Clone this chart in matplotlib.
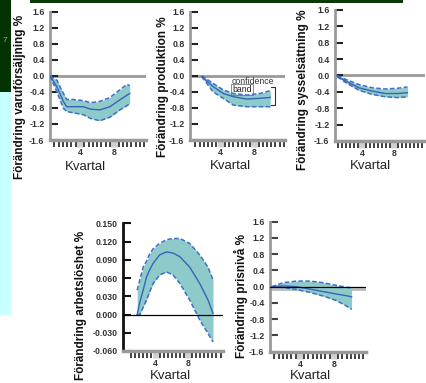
import numpy as np
import matplotlib.pyplot as plt
from matplotlib.patches import Rectangle

plt.rcParams['font.family'] = ['Liberation Sans', 'DejaVu Sans']

# Panel 1: varuförsäljning
q_varu = [0.5, 1.3, 2.06, 2.45, 3.2, 4.4, 5.2, 6.3, 7.5, 8.65, 9.5, 9.8]
varu_mid = [0, -0.27, -0.64, -0.77, -0.77, -0.77, -0.83, -0.85, -0.77, -0.60, -0.48, -0.44]
varu_hi = [0, -0.11, -0.44, -0.59, -0.59, -0.62, -0.67, -0.64, -0.54, -0.35, -0.21, -0.25]
varu_lo = [0, -0.40, -0.81, -0.89, -0.92, -0.97, -1.06, -1.12, -1.03, -0.85, -0.74, -0.69]

# Panel 2: produktion
q_prod = [1.74, 3.1, 4.3, 5.5, 7.1, 8.7, 9.9]
prod_mid = [-0.02, -0.27, -0.44, -0.52, -0.58, -0.56, -0.54]
prod_hi = [0, -0.19, -0.35, -0.44, -0.48, -0.44, -0.37]
prod_lo = [-0.02, -0.40, -0.56, -0.73, -0.77, -0.77, -0.77]

# Panel 3: sysselsättning
q_syss = [0.88, 2.0, 3.6, 5.25, 6.9, 8.5, 9.7]
syss_mid = [-0.016, -0.14, -0.30, -0.38, -0.44, -0.44, -0.42]
syss_hi = [0, -0.10, -0.22, -0.30, -0.33, -0.31, -0.28]
syss_lo = [-0.03, -0.18, -0.36, -0.46, -0.52, -0.54, -0.52]

# Panel 4: arbetslöshet
q_arb = [1.74, 2.07, 2.48, 2.9, 3.3, 3.7, 4.5, 5.35, 6.16, 7.0, 8.2, 9.44, 10.45, 11.07]
arb_mid = [0.0, 0.02, 0.040, 0.062, 0.074, 0.084, 0.098, 0.103, 0.101, 0.095, 0.078, 0.051, 0.024, 0.002]
arb_hi = [0.040, 0.057, 0.078, 0.088, 0.100, 0.108, 0.117, 0.123, 0.125, 0.125, 0.117, 0.098, 0.078, 0.057]
arb_lo = [0.0, 0.0, 0.012, 0.024, 0.038, 0.051, 0.065, 0.070, 0.065, 0.051, 0.024, -0.009, -0.031, -0.045]

# Panel 5: prisnivå
q_pris = [0.67, 2.04, 3.6, 5.18, 6.75, 8.3, 9.7, 10.1]
pris_mid = [0, 0.02, 0.0, -0.06, -0.12, -0.18, -0.23, -0.25]
pris_hi = [0, 0.098, 0.138, 0.138, 0.098, 0.032, -0.02, -0.025]
pris_lo = [0, -0.02, -0.07, -0.14, -0.23, -0.34, -0.50, -0.56]

pct_ticks = [1.6, 1.2, 0.8, 0.4, 0.0, -0.4, -0.8, -1.2, -1.6]
pct_labels = ['1.6', '1.2', '0.8', '0.4', '0.0', '-0.4', '-0.8', '-1.2', '-1.6']
arb_ticks = [0.150, 0.120, 0.090, 0.060, 0.030, 0.000, -0.030, -0.060]
arb_labels = ['0.150', '0.120', '0.090', '0.060', '0.030', '0.000', '-0.030', '-0.060']

W, H = 426, 383
fig = plt.figure(figsize=(W / 100, H / 100), dpi=100)
fig.patch.set_facecolor('white')

# skärmbildsrester i kanten
fig.patches.append(Rectangle((0, 1 - 92 / H), 11 / W, 92 / H, transform=fig.transFigure,
                             facecolor='#003300', edgecolor='none'))
fig.patches.append(Rectangle((0, 1 - 315 / H), 11 / W, 223 / H, transform=fig.transFigure,
                             facecolor='#c8ffff', edgecolor='none'))
fig.patches.append(Rectangle((30 / W, 1 - 2.5 / H), 373 / W, 2.5 / H, transform=fig.transFigure,
                             facecolor='#0a3a0a', edgecolor='none'))
fig.text(3 / W, 1 - 40 / H, '7', color='#66dd66', fontsize=6, va='center', ha='left')

FILL = '#8fcaca'
EDGE = '#3b6fc9'
MID = '#3564b8'


def px_axes(l, t, r, b):
    return fig.add_axes([l / W, 1 - b / H, (r - l) / W, (b - t) / H])


def style(ax, xlim, ylim, yticks, ylabels, spine_col, tick_col):
    ax.set_xlim(*xlim)
    ax.set_ylim(*ylim)
    ax.set_facecolor('none')
    for s in ['top', 'right']:
        ax.spines[s].set_visible(False)
    ax.spines['left'].set_color(spine_col)
    ax.spines['left'].set_linewidth(2)
    ax.spines['bottom'].set_color('#9a9a9a')
    ax.spines['bottom'].set_linewidth(2.5)
    ax.set_yticks(yticks)
    ax.set_yticklabels(ylabels, fontsize=6.3, fontweight='bold', color='#333333')
    ax.tick_params(axis='y', direction='in', length=6, width=1.5, color=tick_col, pad=4)
    ax.set_xticks([4, 8])
    ax.set_xticklabels(['4', '8'], fontsize=6.3, fontweight='bold', color='#333333')
    ax.set_xticks(np.arange(1, xlim[1], 0.5), minor=True)
    ax.tick_params(axis='x', which='major', direction='out', length=5, width=5,
                   color='#d0d0d0', pad=1)
    ax.tick_params(axis='x', which='minor', direction='out', length=5, width=1.3,
                   color='#333333')


def band(ax, q, lo, hi, mid):
    ax.fill_between(q, lo, hi, color=FILL, lw=0, zorder=2)
    ax.plot(q, hi, color=EDGE, lw=1.1, ls=(0, (3, 1.5)), zorder=3)
    ax.plot(q, lo, color=EDGE, lw=1.1, ls=(0, (3, 1.5)), zorder=3)
    ax.plot(q, mid, color=MID, lw=1.0, zorder=4)


# övre raden
ax1 = px_axes(50, 11.6, 146, 140)
style(ax1, (0.5, 11.7), (-1.6, 1.6), pct_ticks, pct_labels, '#9a9a9a', '#222222')
ax1.axhline(0, color='#9a9a9a', lw=2, zorder=1)
band(ax1, q_varu, varu_lo, varu_hi, varu_mid)

ax2 = px_axes(190, 11.6, 285, 140)
style(ax2, (0.35, 11.65), (-1.6, 1.6), pct_ticks, pct_labels, '#9a9a9a', '#222222')
ax2.axhline(0, color='#9a9a9a', lw=2, zorder=1)
band(ax2, q_prod, prod_lo, prod_hi, prod_mid)
ax2.text(5.35, -0.15, 'confidence', fontsize=6.3, color='#333333', va='center', ha='left')
ax2.text(5.35, -0.34, 'band', fontsize=6.3, color='#222222', va='center', ha='left',
         bbox=dict(boxstyle='square,pad=0.12', fc='none', ec='#777777', lw=0.6))
bx = q_prod[-1] + 0.6
ax2.plot([bx - 0.5, bx, bx, bx - 0.5], [prod_hi[-1] + 0.08, prod_hi[-1] + 0.08,
                                        prod_lo[-1] + 0.05, prod_lo[-1] + 0.05],
         color='#333333', lw=0.8)

ax3 = px_axes(335, 10, 425, 141)
style(ax3, (0.6, 11.9), (-1.6, 1.6), pct_ticks, pct_labels, '#9a9a9a', '#222222')
ax3.axhline(0, color='#9a9a9a', lw=2, zorder=1)
band(ax3, q_syss, syss_lo, syss_hi, syss_mid)

# nedre raden
ax4 = px_axes(123, 223.3, 223, 351)
style(ax4, (0.0, 12.3), (-0.060, 0.150), arb_ticks, arb_labels, '#111111', '#111111')
ax4.axhline(0, color='black', lw=0.9, zorder=5)
band(ax4, q_arb, arb_lo, arb_hi, arb_mid)

ax5 = px_axes(270, 221.7, 366, 351.7)
style(ax5, (0.47, 11.8), (-1.6, 1.6), pct_ticks, pct_labels, '#9a9a9a', '#444444')
ax5.axhline(-0.05, color='#bbbbbb', lw=2, zorder=1)
ax5.axhline(0, color='black', lw=0.9, zorder=5)
band(ax5, q_pris, pris_lo, pris_hi, pris_mid)

# axeltitlar
ylabs = [(20, 97, 'Förändring varuförsäljning %'),
         (163, 87, 'Förändring produktion %'),
         (303, 90, 'Förändring sysselsättning %'),
         (81, 305, 'Förändring arbetslöshet %'),
         (241, 296, 'Förändring prisnivå %')]
for x, y, t in ylabs:
    fig.text(x / W, 1 - y / H, t, rotation=90, fontsize=8.5, fontweight='bold',
             ha='center', va='center', color='#111111')

xlabs = [(85, 167), (230, 166), (370, 166), (170, 376), (310, 376)]
for x, y in xlabs:
    fig.text(x / W, 1 - y / H, 'Kvartal', fontsize=9.5, ha='center', va='center',
             color='#222222')

fig.savefig('out.png', dpi=100)
